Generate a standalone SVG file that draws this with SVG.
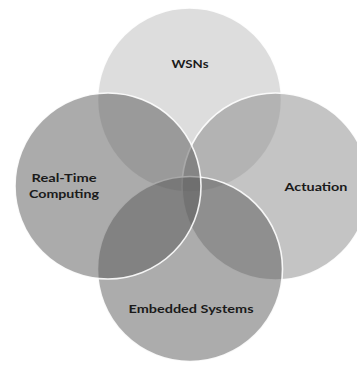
<svg xmlns="http://www.w3.org/2000/svg" width="357" height="366" viewBox="0 0 357 366">
<style>
.c{stroke:#ffffff;stroke-width:1.6;fill-opacity:0.5;stroke-opacity:0.9}
.t{font-family:Lato,"Open Sans","Liberation Sans",sans-serif;font-weight:bold;font-size:12px;fill:#1a1a1a;text-anchor:middle}
</style>
<rect width="357" height="366" fill="#ffffff"/>
<g id="wsns">
<circle class="c" cx="189.5" cy="100" r="92" fill="#bcbcbc"/>
<text class="t" x="190" y="68" textLength="37" lengthAdjust="spacingAndGlyphs">WSNs</text>
</g>
<g id="actuation">
<circle class="c" cx="275.5" cy="186.5" r="93.5" fill="#8a8a8a"/>
<text class="t" x="316" y="191" textLength="63" lengthAdjust="spacingAndGlyphs">Actuation</text>
</g>
<g id="embedded">
<circle class="c" cx="190" cy="269" r="92.5" fill="#595959"/>
<text class="t" x="191" y="313" textLength="125" lengthAdjust="spacingAndGlyphs">Embedded Systems</text>
</g>
<g id="realtime">
<circle class="c" cx="108" cy="186" r="93" fill="#575757"/>
<text class="t" x="64" y="182" textLength="65" lengthAdjust="spacingAndGlyphs">Real-Time</text>
<text class="t" x="64" y="198" textLength="70" lengthAdjust="spacingAndGlyphs">Computing</text>
</g>
<g id="connectors"/>
</svg>
